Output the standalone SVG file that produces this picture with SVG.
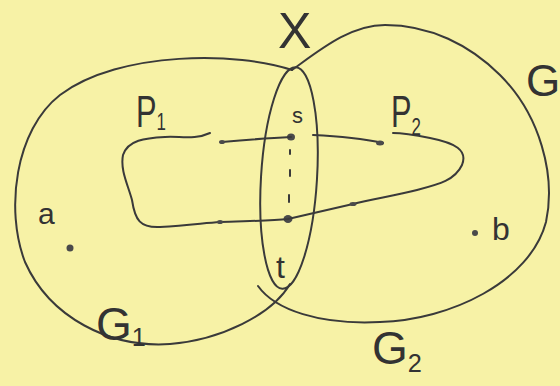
<svg xmlns="http://www.w3.org/2000/svg" width="560" height="386" viewBox="0 0 560 386">
<style>
.ln{fill:none;stroke:#3a3a3a;stroke-width:2;stroke-linecap:round;stroke-linejoin:round}
.pt{fill:#4a4a4a}
.lb{font-family:"Liberation Sans",Arial,sans-serif;fill:#333}
.sub{font-size:55%}
</style>
<rect width="560" height="386" fill="#f7f2a6"/>
<g id="G1">
<path class="ln" d="M292,70 C240,52 120,50 60,95 C15,130 5,210 25,262 C50,318 110,348 170,344 C220,340 272,315 290,284"/>
<text class="lb" x="96" y="340" font-size="46">G<tspan class="sub" dy="6">1</tspan></text>
</g>
<g id="G2">
<path class="ln" d="M292,70 C320,50 350,25 385,25 C430,25 470,45 500,75 C540,115 556,175 546,222 C530,282 450,320 380,322 C320,325 275,310 258,286"/>
<text class="lb" x="526" y="96" font-size="44">G</text>
<text class="lb" x="372" y="364" font-size="46">G<tspan class="sub" dy="8">2</tspan></text>
</g>
<g id="X">
<ellipse class="ln" cx="289" cy="178" rx="28" ry="111" transform="rotate(3.5 289 178)"/>
<text class="lb" x="278" y="48" font-size="50">X</text>
</g>
<g id="s">
<ellipse class="pt" cx="291" cy="137" rx="4" ry="3.5"/>
<text class="lb" x="292" y="123" font-size="22">s</text>
</g>
<g id="t">
<ellipse class="pt" cx="288" cy="219" rx="4.5" ry="4"/>
<text class="lb" x="276" y="278" font-size="32">t</text>
</g>
<g id="a">
<circle class="pt" cx="70" cy="248" r="3.5"/>
<text class="lb" x="38" y="224" font-size="30">a</text>
</g>
<g id="b">
<circle class="pt" cx="475" cy="233" r="3"/>
<text class="lb" x="492" y="240" font-size="32">b</text>
</g>
<g id="connectors">
<path class="ln" d="M210,133 C195,140 180,136 165,137 C145,138 128,140 123,155 C120,170 128,185 132,200 C135,220 140,228 160,227 C190,225 205,223 220,222 C245,221 270,221 288,219 C310,214 335,208 353,204 C370,199 395,196 417,190 C440,184 455,180 462,165 C468,150 455,143 430,138 C415,135 400,133 393,133"/>
<path class="ln" d="M222,142 C245,140 270,138 291,137"/>
<path class="ln" d="M313,135 C335,136 360,138 383,143"/>
<path class="ln" d="M290,150 L290,154 M290,170 L290,176 M289,195 L289,202"/>
<ellipse class="pt" cx="222" cy="142" rx="3" ry="2"/>
<ellipse class="pt" cx="220" cy="222" rx="3" ry="2"/>
<ellipse class="pt" cx="353" cy="204" rx="3.5" ry="2"/>
<ellipse class="pt" cx="380" cy="143" rx="4" ry="2.5"/>
<text class="lb" x="136" y="127" font-size="44" transform="translate(136 0) scale(0.7 1) translate(-136 0)">P<tspan class="sub" dy="3">1</tspan></text>
<text class="lb" x="391" y="127" font-size="44" transform="translate(391 0) scale(0.7 1) translate(-391 0)">P<tspan class="sub" dy="8">2</tspan></text>
</g>
</svg>
